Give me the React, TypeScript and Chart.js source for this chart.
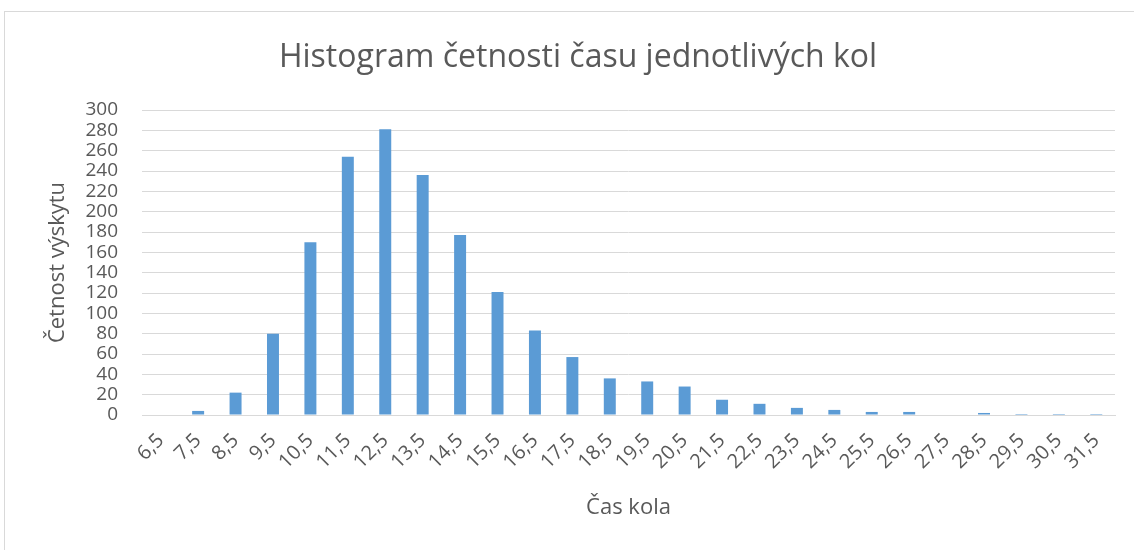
import React, { useEffect, useRef } from "react";
import { Chart, registerables } from "chart.js";

Chart.register(...registerables);

const categories = ["6,5","7,5","8,5","9,5","10,5","11,5","12,5","13,5","14,5","15,5","16,5","17,5","18,5","19,5","20,5","21,5","22,5","23,5","24,5","25,5","26,5","27,5","28,5","29,5","30,5","31,5"];
const counts = [0,4,22,80,170,254,281,236,177,121,83,57,36,33,28,15,11,7,5,3,3,0,2,1,1,1];
const yTicks = [0,20,40,60,80,100,120,140,160,180,200,220,240,260,280,300];

const TITLE = "Histogram četnosti času jednotlivých kol";
const X_TITLE = "Čas kola";
const Y_TITLE = "Četnost výskytu";

const TEXT = "#595959";
const GRID = "#d9d9d9";
const BAR = "#5b9bd5";
const FONT = "'Open Sans', 'Noto Sans', sans-serif";

export default function App() {
  const ref = useRef<HTMLCanvasElement | null>(null);
  useEffect(() => {
    if (!ref.current) return;
    const chart = new Chart(ref.current, {
      type: "bar",
      data: {
        labels: categories,
        datasets: [
          {
            data: counts,
            backgroundColor: BAR,
            borderWidth: 0,
            barPercentage: 0.32,
            categoryPercentage: 1,
          },
        ],
      },
      options: {
        responsive: false,
        animation: false,
        layout: { padding: { top: 25, left: 41, right: 19, bottom: 25 } },
        plugins: {
          legend: { display: false },
          tooltip: { enabled: false },
          title: {
            display: true,
            text: TITLE,
            color: TEXT,
            font: { family: FONT, size: 32, weight: "normal", lineHeight: 1.2 },
            padding: { top: 14, bottom: 32.6 },
          },
        },
        scales: {
          x: {
            grid: { display: false, drawTicks: false },
            border: { display: true, color: GRID, width: 1 },
            ticks: {
              color: TEXT,
              font: { family: FONT, size: 20 },
              autoSkip: false,
              maxRotation: 45,
              minRotation: 45,
              padding: 14,
            },
            title: {
              display: true,
              text: X_TITLE,
              color: TEXT,
              font: { family: FONT, size: 22, lineHeight: 1.2 },
              padding: { top: 4, bottom: 4 },
            },
            afterFit: (s: any) => {
              s.height = 110;
            },
          },
          y: {
            min: 0,
            max: 300,
            afterBuildTicks: (s: any) => {
              s.ticks = yTicks.map((v) => ({ value: v }));
            },
            grid: { color: GRID, drawTicks: false, lineWidth: 1 },
            border: { display: false },
            ticks: {
              color: TEXT,
              font: { family: FONT, size: 19, lineHeight: 1 },
              padding: 24,
              autoSkip: false,
            },
            title: {
              display: true,
              text: Y_TITLE,
              color: TEXT,
              font: { family: FONT, size: 22, lineHeight: 1.2 },
              padding: { top: 4, bottom: 4 },
            },
            afterFit: (s: any) => {
              s.width = 101;
            },
          },
        },
      },
    });
    return () => chart.destroy();
  }, []);

  return (
    <div
      style={{
        position: "fixed",
        left: 0,
        top: 0,
        width: 1134,
        height: 550,
        overflow: "hidden",
        background: "#fff",
      }}
    >
      <div
        style={{
          position: "absolute",
          left: 4,
          top: 11,
          width: 1200,
          height: 600,
          border: "1px solid #d9d9d9",
        }}
      />
      <canvas
        ref={ref}
        width={1134}
        height={550}
        style={{ position: "absolute", left: 0, top: 0 }}
      />
    </div>
  );
}
